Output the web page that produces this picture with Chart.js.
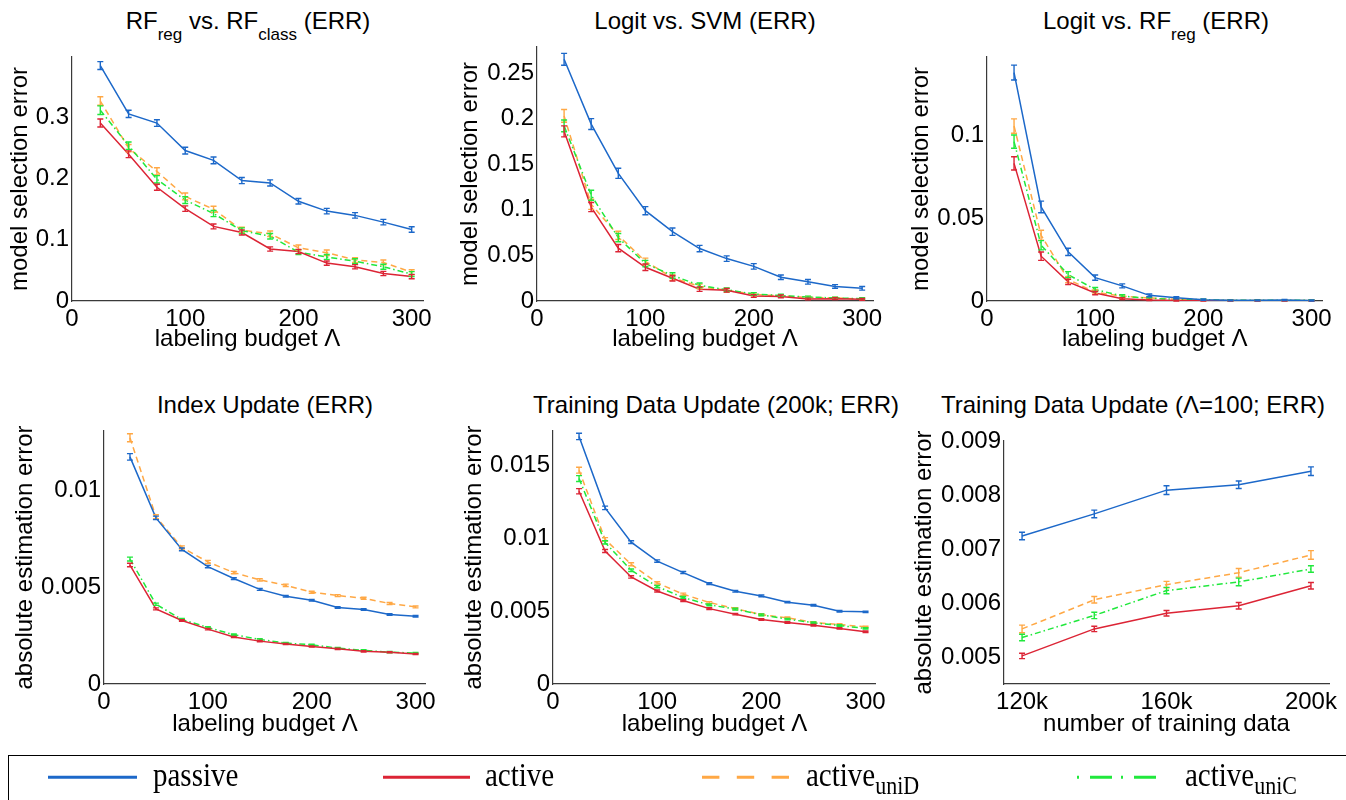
<!DOCTYPE html>
<html>
<head>
<meta charset="utf-8">
<script src="https://cdn.jsdelivr.net/npm/chart.js@4.4.1/dist/chart.umd.min.js"></script>
<style>
  html, body { margin:0; padding:0; background:#fff; }
  body { width:1346px; height:800px; overflow:hidden; position:relative; }
  canvas { position:absolute; }
  .ttl { position:absolute; width:500px; text-align:center; font-family:"Liberation Sans", Arial, sans-serif;
         font-size:24px; line-height:24px; white-space:nowrap; color:#000; }
  .ttl .sb { font-size:17px; position:relative; top:11px; }
  .legbox { position:absolute; left:8px; top:755px; width:1400px; height:100px; border:1.5px solid #000; box-sizing:border-box; }
  .leg { position:absolute; font-family:"Liberation Serif", "Times New Roman", serif; font-size:29px; line-height:29px; white-space:nowrap; color:#000;
         transform:scaleY(1.13); transform-origin:0 24.3px; }
  .leg .sb { font-size:22px; position:relative; top:7px; }
</style>
</head>
<body>
<div class="ttl" style="left:-2px; top:9px;">RF<span class="sb">reg</span> vs. RF<span class="sb">class</span> (ERR)</div>
<div class="ttl" style="left:455px; top:9px;">Logit vs. SVM (ERR)</div>
<div class="ttl" style="left:906px; top:9px;">Logit vs. RF<span class="sb">reg</span> (ERR)</div>
<div class="ttl" style="left:15px; top:393px;">Index Update (ERR)</div>
<div class="ttl" style="left:466px; top:393px;">Training Data Update (200k; ERR)</div>
<div class="ttl" style="left:883px; top:393px;">Training Data Update (Λ=100; ERR)</div>

<canvas id="c1" width="440" height="360" style="left:0px; top:0px;"></canvas>
<canvas id="c2" width="440" height="360" style="left:450px; top:0px;"></canvas>
<canvas id="c3" width="440" height="360" style="left:896px; top:0px;"></canvas>
<canvas id="c4" width="440" height="360" style="left:0px; top:390px;"></canvas>
<canvas id="c5" width="440" height="360" style="left:450px; top:390px;"></canvas>
<canvas id="c6" width="446" height="360" style="left:896px; top:390px;"></canvas>

<div class="legbox"></div>
<svg style="position:absolute; left:0; top:740px;" width="1346" height="60">
  <line x1="48" y1="37.3" x2="137" y2="37.3" stroke="#1c68c9" stroke-width="3"/>
  <line x1="383" y1="37.3" x2="470" y2="37.3" stroke="#dc2435" stroke-width="3"/>
  <line x1="702" y1="37.3" x2="789" y2="37.3" stroke="#ffa845" stroke-width="3" stroke-dasharray="17.4 17.4"/>
  <line x1="1077" y1="37.3" x2="1163" y2="37.3" stroke="#20e83c" stroke-width="3" stroke-dasharray="2 11 22 9"/>
</svg>
<div class="leg" style="left:153px; top:762px;">passive</div>
<div class="leg" style="left:485px; top:762px;">active</div>
<div class="leg" style="left:806px; top:762px;">active<span class="sb">uniD</span></div>
<div class="leg" style="left:1185px; top:762px;">active<span class="sb">uniC</span></div>

<script>
// ---------- shared categories / ticks ----------
const budget = [25, 50, 75, 100, 125, 150, 175, 200, 225, 250, 275, 300];
const budgetTicks = [0, 100, 200, 300];
const budgetTickLabels = ['0', '100', '200', '300'];
const trainSize = [120, 140, 160, 180, 200];
const trainTicks = [120, 160, 200];
const trainTickLabels = ['120k', '160k', '200k'];
const seriesNames = ['passive', 'active', 'activeuniD', 'activeuniC'];

// ---------- panel 1: RF_reg vs RF_class ----------
const p1Passive = [0.385, 0.306, 0.291, 0.246, 0.230, 0.197, 0.193, 0.163, 0.147, 0.140, 0.129, 0.117];
const p1Active  = [0.291, 0.240, 0.186, 0.151, 0.122, 0.112, 0.085, 0.081, 0.062, 0.056, 0.045, 0.040];
const p1UniD    = [0.327, 0.250, 0.212, 0.171, 0.150, 0.116, 0.110, 0.087, 0.079, 0.067, 0.063, 0.047];
const p1UniC    = [0.312, 0.254, 0.199, 0.165, 0.143, 0.115, 0.106, 0.080, 0.072, 0.065, 0.056, 0.044];
const p1PassiveErr = [0.0065, 0.006, 0.0055, 0.0055, 0.0055, 0.005, 0.005, 0.0045, 0.0045, 0.0045, 0.0045, 0.0045];
const p1ActiveErr  = [0.0065, 0.0055, 0.005, 0.0045, 0.004, 0.004, 0.0035, 0.0035, 0.0035, 0.0035, 0.0035, 0.0035];
const p1UniDErr    = [0.007, 0.006, 0.006, 0.0055, 0.005, 0.0045, 0.0045, 0.0045, 0.0045, 0.004, 0.004, 0.004];
const p1UniCErr    = [0.007, 0.006, 0.006, 0.0055, 0.005, 0.0045, 0.0045, 0.004, 0.004, 0.004, 0.004, 0.004];
const p1YTicks = [0, 0.1, 0.2, 0.3];
const p1YTickLabels = ['0', '0.1', '0.2', '0.3'];

// ---------- panel 2: Logit vs SVM ----------
const p2Passive = [0.265, 0.194, 0.140, 0.099, 0.076, 0.0575, 0.0465, 0.038, 0.026, 0.021, 0.016, 0.0139];
const p2Active  = [0.186, 0.103, 0.058, 0.037, 0.025, 0.013, 0.0117, 0.0055, 0.005, 0.0022, 0.0025, 0.0018];
const p2UniD    = [0.203, 0.106, 0.072, 0.0435, 0.0256, 0.016, 0.0117, 0.0073, 0.0055, 0.004, 0.0033, 0.0022];
const p2UniC    = [0.192, 0.116, 0.0695, 0.041, 0.028, 0.0172, 0.0124, 0.0077, 0.006, 0.0044, 0.0033, 0.0026];
const p2PassiveErr = [0.0065, 0.006, 0.0055, 0.0045, 0.004, 0.0035, 0.003, 0.003, 0.0025, 0.0025, 0.002, 0.002];
const p2ActiveErr  = [0.006, 0.005, 0.004, 0.0035, 0.003, 0.0025, 0.002, 0.0015, 0.0015, 0.001, 0.001, 0.001];
const p2UniDErr    = [0.007, 0.0055, 0.0045, 0.0035, 0.003, 0.0025, 0.002, 0.0015, 0.0015, 0.001, 0.001, 0.001];
const p2UniCErr    = [0.0065, 0.0055, 0.0045, 0.0035, 0.003, 0.0025, 0.002, 0.0015, 0.0015, 0.001, 0.001, 0.001];
const p2YTicks = [0, 0.05, 0.1, 0.15, 0.2, 0.25];
const p2YTickLabels = ['0', '0.05', '0.1', '0.15', '0.2', '0.25'];

// ---------- panel 3: Logit vs RF_reg ----------
const p3Passive = [0.1376, 0.0567, 0.0296, 0.0141, 0.0091, 0.0034, 0.0020, 0.0008, 0.0004, 0.0004, 0.0006, 0.0003];
const p3Active  = [0.0829, 0.0270, 0.0115, 0.0048, 0.0014, 0.0006, 0.0003, 0.0002, 0.0002, 0.0002, 0.0002, 0.0002];
const p3UniD    = [0.1054, 0.0396, 0.0129, 0.0054, 0.0028, 0.0018, 0.0010, 0.0006, 0.0003, 0.0003, 0.0003, 0.0003];
const p3UniC    = [0.0960, 0.0336, 0.0159, 0.0069, 0.0030, 0.0016, 0.0010, 0.0008, 0.0004, 0.0004, 0.0004, 0.0004];
const p3PassiveErr = [0.0045, 0.0035, 0.0022, 0.0016, 0.0012, 0.0008, 0.0006, 0.0004, 0.0003, 0.0003, 0.0004, 0.0003];
const p3ActiveErr  = [0.004, 0.0025, 0.0016, 0.001, 0.0006, 0.0004, 0.0003, 0.0002, 0.0002, 0.0002, 0.0002, 0.0002];
const p3UniDErr    = [0.0043, 0.003, 0.0018, 0.0012, 0.0008, 0.0006, 0.0004, 0.0003, 0.0002, 0.0002, 0.0002, 0.0002];
const p3UniCErr    = [0.004, 0.0028, 0.0018, 0.0012, 0.0008, 0.0006, 0.0004, 0.0003, 0.0002, 0.0002, 0.0002, 0.0002];
const p3YTicks = [0, 0.05, 0.1];
const p3YTickLabels = ['0', '0.05', '0.1'];

// ---------- panel 4: Index Update ----------
const p4Passive = [0.01176, 0.0086, 0.00697, 0.00608, 0.00546, 0.0049, 0.00454, 0.00434, 0.00396, 0.00386, 0.0036, 0.00351];
const p4Active  = [0.00616, 0.00389, 0.00329, 0.00284, 0.00243, 0.00222, 0.00207, 0.00194, 0.00182, 0.00169, 0.00164, 0.00155];
const p4UniD    = [0.01275, 0.00866, 0.00707, 0.00632, 0.00577, 0.00539, 0.00511, 0.00475, 0.00458, 0.00444, 0.00417, 0.00399];
const p4UniC    = [0.00647, 0.00413, 0.00334, 0.00293, 0.00255, 0.00231, 0.00212, 0.00203, 0.00186, 0.00174, 0.00165, 0.0016];
const p4PassiveErr = [0.00017, 0.00009, 0.00007, 0.00006, 0.00005, 0.00005, 0.00004, 0.00004, 0.00004, 0.00004, 0.00004, 0.00004];
const p4ActiveErr  = [0.00009, 0.00005, 0.00004, 0.00004, 0.00003, 0.00003, 0.00003, 0.00003, 0.00003, 0.00003, 0.00003, 0.00003];
const p4UniDErr    = [0.00021, 0.0001, 0.00008, 0.00008, 0.00006, 0.00006, 0.00006, 0.00005, 0.00005, 0.00005, 0.00005, 0.00005];
const p4UniCErr    = [0.0001, 0.00006, 0.00005, 0.00004, 0.00004, 0.00004, 0.00003, 0.00003, 0.00003, 0.00003, 0.00003, 0.00003];
const p4YTicks = [0, 0.005, 0.01];
const p4YTickLabels = ['0', '0.005', '0.01'];

// ---------- panel 5: Training Data Update (200k) ----------
const p5Passive = [0.01698, 0.01208, 0.00973, 0.00843, 0.00764, 0.00688, 0.00636, 0.00604, 0.00561, 0.0054, 0.00499, 0.00495];
const p5Active  = [0.01322, 0.00912, 0.00734, 0.00638, 0.00572, 0.00517, 0.00479, 0.00442, 0.00422, 0.00403, 0.00381, 0.00358];
const p5UniD    = [0.01466, 0.00992, 0.00821, 0.00693, 0.00616, 0.00559, 0.00517, 0.00476, 0.00454, 0.00422, 0.00408, 0.00392];
const p5UniC    = [0.01409, 0.00971, 0.0078, 0.00668, 0.00593, 0.00543, 0.00513, 0.00474, 0.00445, 0.0042, 0.00401, 0.00381];
const p5PassiveErr = [0.00022, 0.00012, 0.00009, 0.00008, 0.00007, 0.00006, 0.00006, 0.00006, 0.00005, 0.00005, 0.00005, 0.00005];
const p5ActiveErr  = [0.00018, 0.0001, 0.00008, 0.00007, 0.00006, 0.00006, 0.00005, 0.00005, 0.00005, 0.00005, 0.00005, 0.00005];
const p5UniDErr    = [0.0002, 0.00012, 0.0001, 0.00008, 0.00007, 0.00006, 0.00006, 0.00006, 0.00005, 0.00005, 0.00005, 0.00005];
const p5UniCErr    = [0.0002, 0.00011, 0.00009, 0.00008, 0.00007, 0.00006, 0.00006, 0.00006, 0.00005, 0.00005, 0.00005, 0.00005];
const p5YTicks = [0, 0.005, 0.01, 0.015];
const p5YTickLabels = ['0', '0.005', '0.01', '0.015'];

// ---------- panel 6: Training Data Update (Λ=100) ----------
const p6Passive = [0.00724, 0.00765, 0.00809, 0.00819, 0.00844];
const p6Active  = [0.00502, 0.00552, 0.00581, 0.00595, 0.00632];
const p6UniD    = [0.00552, 0.00606, 0.00634, 0.00656, 0.00689];
const p6UniC    = [0.00536, 0.00577, 0.00623, 0.00639, 0.00663];
const p6PassiveErr = [0.00007, 0.00007, 0.00008, 0.00007, 0.00008];
const p6ActiveErr  = [0.00005, 0.00005, 0.00005, 0.00006, 0.00006];
const p6UniDErr    = [0.00007, 0.00006, 0.00006, 0.00008, 0.00008];
const p6UniCErr    = [0.00006, 0.00006, 0.00006, 0.00007, 0.00006];
const p6YTicks = [0.005, 0.006, 0.007, 0.008, 0.009];
const p6YTickLabels = ['0.005', '0.006', '0.007', '0.008', '0.009'];

// ---------- styles ----------
const FONT = '"Liberation Sans", Arial, sans-serif';
const STYLE = {
  passive:    { color: '#1c68c9', dash: [] },
  active:     { color: '#dc2435', dash: [] },
  activeuniD: { color: '#ffa845', dash: [6, 4] },
  activeuniC: { color: '#20e83c', dash: [6, 3, 1.5, 3] }
};

const errorBars = {
  id: 'errorBars',
  afterDatasetsDraw(chart) {
    const { ctx } = chart;
    const xs = chart.scales.x, ys = chart.scales.y;
    for (let i = chart.data.datasets.length - 1; i >= 0; i--) {
      const ds = chart.data.datasets[i];
      if (!ds.errors) continue;
      ctx.save();
      ctx.strokeStyle = ds.borderColor;
      ctx.lineWidth = 1.4;
      ctx.setLineDash([]);
      ds.data.forEach((pt, j) => {
        const e = ds.errors[j];
        const px = xs.getPixelForValue(pt.x);
        const top = ys.getPixelForValue(pt.y + e);
        const bot = ys.getPixelForValue(pt.y - e);
        ctx.beginPath();
        ctx.moveTo(px, top); ctx.lineTo(px, bot);
        ctx.moveTo(px - 3, top); ctx.lineTo(px + 3, top);
        ctx.moveTo(px - 3, bot); ctx.lineTo(px + 3, bot);
        ctx.stroke();
      });
      ctx.restore();
    }
  }
};

function makeSeries(name, xs, ys, errs, order) {
  const st = STYLE[name];
  return {
    label: name,
    data: xs.map((x, i) => ({ x: x, y: ys[i] })),
    errors: errs,
    borderColor: st.color,
    backgroundColor: st.color,
    borderDash: st.dash,
    borderWidth: 1.5,
    pointRadius: 0,
    tension: 0,
    fill: false,
    order: order
  };
}

function makePanel(id, c) {
  const tickFont = { family: FONT, size: 24 };
  new Chart(document.getElementById(id), {
    type: 'line',
    data: {
      datasets: [
        makeSeries('passive', c.xs, c.passive, c.errs[0], 1),
        makeSeries('active', c.xs, c.active, c.errs[1], 2),
        makeSeries('activeuniC', c.xs, c.uniC, c.errs[3], 3),
        makeSeries('activeuniD', c.xs, c.uniD, c.errs[2], 4)
      ]
    },
    options: {
      responsive: false,
      animation: false,
      devicePixelRatio: 1,
      events: [],
      layout: { padding: { top: c.padT, right: c.padR, left: 0, bottom: 0 } },
      plugins: { legend: { display: false }, tooltip: { enabled: false }, title: { display: false } },
      scales: {
        x: {
          type: 'linear', min: c.xMin, max: c.xMax,
          grid: { display: false, drawTicks: false },
          border: { display: true, color: '#3a3a3a', width: 1.2 },
          ticks: { autoSkip: false, maxRotation: 0, padding: 4, color: '#000', font: tickFont,
                   callback: (v, i) => c.xLabels[i] },
          afterBuildTicks: s => { s.ticks = c.xTicks.map(v => ({ value: v })); },
          afterFit: s => { s.height = c.xH; },
          title: { display: true, text: c.xTitle, color: '#000',
                   font: { family: FONT, size: 24, lineHeight: 1.2 }, padding: { top: 0, bottom: c.xTitlePad } }
        },
        y: {
          type: 'linear', min: c.yMin, max: c.yMax,
          grid: { display: false, drawTicks: false },
          border: { display: true, color: '#3a3a3a', width: 1.2 },
          ticks: { autoSkip: false, padding: 3, color: '#000', font: tickFont,
                   callback: (v, i) => c.yLabels[i] },
          afterBuildTicks: s => { s.ticks = c.yTicks.map(v => ({ value: v })); },
          afterFit: s => { s.width = c.yW; },
          title: { display: true, text: c.yTitle, color: '#000',
                   font: { family: FONT, size: 24, lineHeight: 1.2 }, padding: { top: c.yTitlePad, bottom: 0 } }
        }
      }
    },
    plugins: [errorBars]
  });
}

const budgetX = { xs: budget, xMin: 0, xMax: 310, xTicks: budgetTicks, xLabels: budgetTickLabels, xTitle: 'labeling budget Λ' };

makePanel('c1', Object.assign({}, budgetX, {
  passive: p1Passive, active: p1Active, uniD: p1UniD, uniC: p1UniC,
  errs: [p1PassiveErr, p1ActiveErr, p1UniDErr, p1UniCErr],
  yMin: 0, yMax: 0.399, yTicks: p1YTicks, yLabels: p1YTickLabels, yTitle: 'model selection error',
  padT: 57, padR: 17, yW: 72, xH: 59, yTitlePad: 6, xTitlePad: 6.6
}));
makePanel('c2', Object.assign({}, budgetX, {
  passive: p2Passive, active: p2Active, uniD: p2UniD, uniC: p2UniC,
  errs: [p2PassiveErr, p2ActiveErr, p2UniDErr, p2UniCErr],
  yMin: 0, yMax: 0.2785, yTicks: p2YTicks, yLabels: p2YTickLabels, yTitle: 'model selection error',
  padT: 47, padR: 17, yW: 87, xH: 59, yTitlePad: 5.6, xTitlePad: 6.6
}));
makePanel('c3', Object.assign({}, budgetX, {
  passive: p3Passive, active: p3Active, uniD: p3UniD, uniC: p3UniC,
  errs: [p3PassiveErr, p3ActiveErr, p3UniDErr, p3UniCErr],
  yMin: 0, yMax: 0.147, yTicks: p3YTicks, yLabels: p3YTickLabels, yTitle: 'model selection error',
  padT: 57, padR: 13, yW: 91, xH: 59, yTitlePad: 11, xTitlePad: 6.6
}));
makePanel('c4', Object.assign({}, budgetX, {
  passive: p4Passive, active: p4Active, uniD: p4UniD, uniC: p4UniC,
  errs: [p4PassiveErr, p4ActiveErr, p4UniDErr, p4UniCErr],
  yMin: 0, yMax: 0.0131, yTicks: p4YTicks, yLabels: p4YTickLabels, yTitle: 'absolute estimation error',
  padT: 41, padR: 13, yW: 104, xH: 66, yTitlePad: 10.6, xTitlePad: 11.6
}));
makePanel('c5', Object.assign({}, budgetX, {
  passive: p5Passive, active: p5Active, uniD: p5UniD, uniC: p5UniC,
  errs: [p5PassiveErr, p5ActiveErr, p5UniDErr, p5UniCErr],
  yMin: 0, yMax: 0.01735, yTicks: p5YTicks, yLabels: p5YTickLabels, yTitle: 'absolute estimation error',
  padT: 41, padR: 13, yW: 103, xH: 66, yTitlePad: 9.6, xTitlePad: 11.6
}));
makePanel('c6', {
  xs: trainSize, xMin: 115, xMax: 205, xTicks: trainTicks, xLabels: trainTickLabels, xTitle: 'number of training data',
  passive: p6Passive, active: p6Active, uniD: p6UniD, uniC: p6UniC,
  errs: [p6PassiveErr, p6ActiveErr, p6UniDErr, p6UniCErr],
  yMin: 0.0045, yMax: 0.009, yTicks: p6YTicks, yLabels: p6YTickLabels, yTitle: 'absolute estimation error',
  padT: 51, padR: 13, yW: 108, xH: 66, yTitlePad: 13.6, xTitlePad: 11.6
});
</script>
</body>
</html>
